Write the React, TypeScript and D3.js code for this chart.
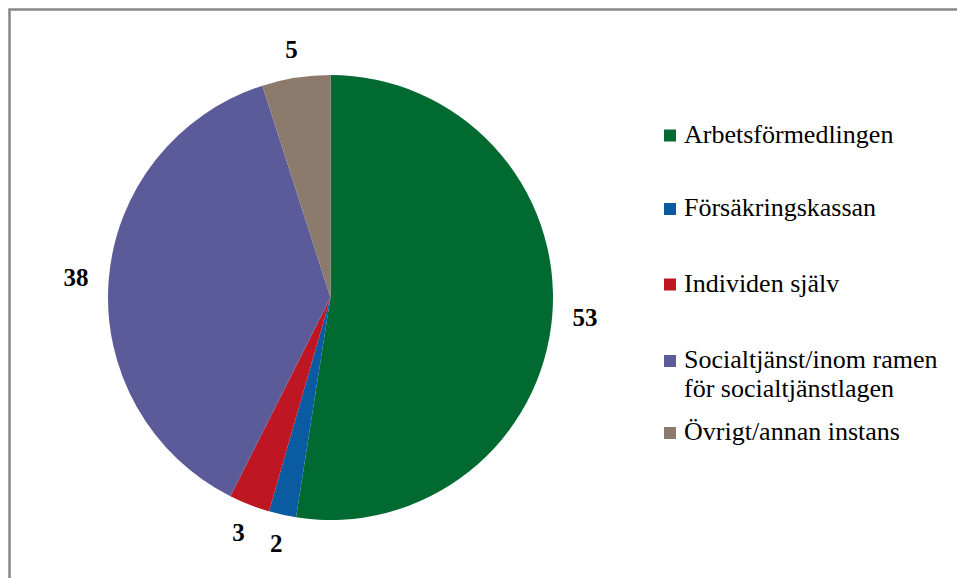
import React from "react";
import * as d3 from "d3";

const categories = [
  "Arbetsförmedlingen",
  "Försäkringskassan",
  "Individen själv",
  "Socialtjänst/inom ramen för socialtjänstlagen",
  "Övrigt/annan instans",
];
const legendLines = [
  ["Arbetsförmedlingen"],
  ["Försäkringskassan"],
  ["Individen själv"],
  ["Socialtjänst/inom ramen", "för socialtjänstlagen"],
  ["Övrigt/annan instans"],
];
const values = [53, 2, 3, 38, 5];
const colors = ["#006A30", "#0B5BA2", "#BE1622", "#5B5B9A", "#8C7B6D"];

const W = 957;
const H = 578;
const cx = 330.5;
const cy = 297.5;
const R = 222.5;
const labelGap = 19.6;
const labelFont = 25;
const legendFont = 26;
const legendBaselines = [142.5, 216, 291.5, 368, 440];
const FONT = "Liberation Serif";

export default function App() {
  const pie = d3
    .pie<number>()
    .sort(null)
    .startAngle(0)
    .endAngle(2 * Math.PI)(values);
  const arc = d3.arc<d3.PieArcDatum<number>>().innerRadius(0).outerRadius(R);

  return (
    <svg
      width={W}
      height={H}
      style={{ position: "absolute", left: 0, top: 0, background: "#fff" }}
    >
      <rect x={0} y={0} width={W} height={H} fill="#fff" />
      <rect
        x={9.5}
        y={9.5}
        width={W + 20}
        height={H + 20}
        fill="none"
        stroke="#888"
        strokeWidth={2.5}
      />
      <g transform={`translate(${cx},${cy})`}>
        {pie.map((d, i) => (
          <path key={i} d={arc(d) || ""} fill={colors[i]} />
        ))}
        {pie.map((d, i) => {
          const a = (d.startAngle + d.endAngle) / 2;
          const dx = Math.sin(a);
          const dy = -Math.cos(a);
          const text = String(values[i]);
          const hw = (text.length * 0.5 * labelFont) / 2;
          const hh = (0.68 * labelFont) / 2;
          const ext = hw * Math.abs(dx) + hh * Math.abs(dy);
          const r = R + labelGap + ext;
          return (
            <text
              key={"l" + i}
              x={dx * r}
              y={dy * r + hh}
              textAnchor="middle"
              fontFamily={FONT}
              fontWeight="bold"
              fontSize={labelFont}
              fill="#000"
            >
              {text}
            </text>
          );
        })}
      </g>
      <g>
        {categories.map((c, i) => (
          <g key={c}>
            <rect
              x={664}
              y={legendBaselines[i] - 13}
              width={12}
              height={12}
              fill={colors[i]}
            />
            {legendLines[i].map((line, j) => (
              <text
                key={j}
                x={684}
                y={legendBaselines[i] + j * 29}
                fontFamily={FONT}
                fontSize={legendFont}
                fill="#000"
              >
                {line}
              </text>
            ))}
          </g>
        ))}
      </g>
    </svg>
  );
}
